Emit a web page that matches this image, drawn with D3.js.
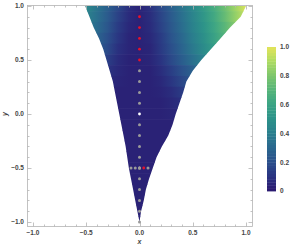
<!DOCTYPE html>
<html>
<head>
<meta charset="utf-8">
<script src="https://cdn.jsdelivr.net/npm/d3@7"></script>
<style>
  body { margin: 0; background: #fff; }
  text { font-family: "Liberation Sans", Arial, sans-serif; }
</style>
</head>
<body>
<div id="chart"></div>
<script>
// boundary of the shaded region, read per y level
const levels = [1.0, 0.9, 0.8, 0.7, 0.6, 0.5, 0.4, 0.3, 0.2, 0.1, 0.0,
                -0.1, -0.2, -0.3, -0.4, -0.5, -0.6, -0.7, -0.8, -0.9, -1.0];
const leftEdge = [-0.51, -0.47, -0.43, -0.38, -0.34, -0.31, -0.28, -0.25, -0.23, -0.21, -0.19,
                  -0.17, -0.15, -0.13, -0.115, -0.10, -0.08, -0.06, -0.04, -0.02, 0.0];
const rightEdge = [1.0, 0.95, 0.85, 0.76, 0.67, 0.58, 0.50, 0.44, 0.41, 0.375, 0.34,
                   0.31, 0.27, 0.21, 0.16, 0.125, 0.09, 0.06, 0.04, 0.015, 0.0];

// field value samples along x for each level
const sampleX = [-0.5, -0.4, -0.3, -0.2, -0.1, 0.0, 0.1, 0.2, 0.3, 0.4, 0.5, 0.6, 0.7, 0.8, 0.9, 1.0];
const field = [
  [0.45, 0.36, 0.27, 0.17, 0.08, 0.04, 0.09, 0.18, 0.27, 0.36, 0.45, 0.55, 0.65, 0.76, 0.87, 0.98],
  [0.42, 0.34, 0.25, 0.15, 0.07, 0.04, 0.08, 0.16, 0.25, 0.34, 0.43, 0.53, 0.63, 0.74, 0.85, 0.95],
  [0.40, 0.32, 0.23, 0.13, 0.06, 0.04, 0.07, 0.15, 0.24, 0.33, 0.42, 0.51, 0.61, 0.71, 0.82, 0.92],
  [0.37, 0.29, 0.20, 0.11, 0.05, 0.04, 0.06, 0.13, 0.22, 0.31, 0.40, 0.49, 0.59, 0.69, 0.79, 0.89],
  [0.33, 0.26, 0.18, 0.09, 0.05, 0.04, 0.05, 0.12, 0.20, 0.29, 0.38, 0.47, 0.56, 0.66, 0.76, 0.86],
  [0.28, 0.21, 0.14, 0.07, 0.04, 0.04, 0.05, 0.10, 0.18, 0.26, 0.34, 0.42, 0.50, 0.60, 0.70, 0.80],
  [0.22, 0.16, 0.10, 0.06, 0.04, 0.04, 0.04, 0.08, 0.14, 0.21, 0.28, 0.36, 0.45, 0.55, 0.65, 0.75],
  [0.15, 0.11, 0.07, 0.05, 0.04, 0.04, 0.04, 0.06, 0.11, 0.17, 0.24, 0.32, 0.40, 0.50, 0.60, 0.70],
  [0.10, 0.07, 0.05, 0.04, 0.04, 0.04, 0.04, 0.05, 0.08, 0.13, 0.19, 0.26, 0.34, 0.44, 0.54, 0.64],
  [0.06, 0.05, 0.04, 0.04, 0.04, 0.04, 0.04, 0.04, 0.06, 0.09, 0.14, 0.20, 0.28, 0.36, 0.46, 0.56],
  [0.04, 0.04, 0.04, 0.04, 0.04, 0.04, 0.04, 0.04, 0.05, 0.06, 0.09, 0.14, 0.20, 0.28, 0.36, 0.45],
  [0.04, 0.04, 0.04, 0.04, 0.04, 0.04, 0.04, 0.04, 0.04, 0.05, 0.07, 0.10, 0.15, 0.21, 0.28, 0.36],
  [0.04, 0.04, 0.04, 0.04, 0.04, 0.04, 0.04, 0.04, 0.04, 0.04, 0.05, 0.07, 0.10, 0.15, 0.21, 0.27],
  [0.04, 0.04, 0.04, 0.04, 0.04, 0.04, 0.04, 0.04, 0.04, 0.04, 0.04, 0.05, 0.07, 0.10, 0.14, 0.18],
  [0.04, 0.04, 0.04, 0.04, 0.04, 0.04, 0.04, 0.04, 0.04, 0.04, 0.04, 0.04, 0.05, 0.06, 0.08, 0.10],
  [0.04, 0.04, 0.04, 0.04, 0.04, 0.04, 0.04, 0.04, 0.04, 0.04, 0.04, 0.04, 0.04, 0.04, 0.05, 0.06],
  [0.04, 0.04, 0.04, 0.04, 0.04, 0.04, 0.04, 0.04, 0.04, 0.04, 0.04, 0.04, 0.04, 0.04, 0.04, 0.04],
  [0.04, 0.04, 0.04, 0.04, 0.04, 0.04, 0.04, 0.04, 0.04, 0.04, 0.04, 0.04, 0.04, 0.04, 0.04, 0.04],
  [0.04, 0.04, 0.04, 0.04, 0.04, 0.04, 0.04, 0.04, 0.04, 0.04, 0.04, 0.04, 0.04, 0.04, 0.04, 0.04],
  [0.04, 0.04, 0.04, 0.04, 0.04, 0.04, 0.04, 0.04, 0.04, 0.04, 0.04, 0.04, 0.04, 0.04, 0.04, 0.04],
  [0.04, 0.04, 0.04, 0.04, 0.04, 0.04, 0.04, 0.04, 0.04, 0.04, 0.04, 0.04, 0.04, 0.04, 0.04, 0.04]
];

// sample points
const grayX = [0, 0, 0, 0, 0, 0, 0, 0, 0, 0, 0, 0, 0, 0, 0, 0, -0.08, -0.04, 0.08];
const grayY = [0.4, 0.3, 0.2, 0.1, -0.1, -0.2, -0.3, -0.4, -0.5, -0.6, -0.7, -0.8, -0.9, -1.0, -0.5, -0.5, -0.5, -0.5, -0.5];
const redX = [0, 0, 0, 0, 0, 0.04];
const redY = [0.9, 0.8, 0.7, 0.6, 0.5, -0.5];
const whiteX = [0];
const whiteY = [0];

const majorTicks = [-1, -0.5, 0, 0.5, 1];
const tickLabels = ["\u22121.0", "\u22120.5", "0.0", "0.5", "1.0"];
const barTicks = [0, 0.2, 0.4, 0.6, 0.8, 1.0];
const barLabels = ["0", "0.2", "0.4", "0.6", "0.8", "1.0"];

const colorStops = ["#2a176f", "#2a3381", "#2b4f8b", "#2a668e", "#2a7e8d",
                    "#2c9189", "#3aa385", "#55b47a", "#7cc56d", "#addb63", "#e3e45a"];

const width = 294, height = 247;

const svg = d3.select("#chart").append("svg")
  .attr("width", width)
  .attr("height", height);

let x = d3.scaleLinear().domain([-1.056, 1.056]).range([27, 252]);
let y = d3.scaleLinear().domain([-1.037, 1.009]).range([226, 5]);
let color = d3.scaleLinear()
  .domain(d3.range(colorStops.length).map(i => i / (colorStops.length - 1)))
  .range(colorStops)
  .clamp(true);

let defs = svg.append("defs");

let region = levels.map((lv, i) => ({y: lv, l: leftEdge[i], r: rightEdge[i]}))
  .sort((a, b) => a.y - b.y);

let area = d3.area()
  .y(d => y(d.y))
  .x0(d => x(d.l))
  .x1(d => x(d.r));

defs.append("clipPath").attr("id", "clip-region")
  .append("path")
  .attr("d", area(region));

// one gradient per level
levels.forEach((lv, i) => {
  let g = defs.append("linearGradient")
    .attr("id", "row" + i)
    .attr("gradientUnits", "userSpaceOnUse")
    .attr("x1", x(sampleX[0])).attr("x2", x(sampleX[sampleX.length - 1]))
    .attr("y1", 0).attr("y2", 0);
  sampleX.forEach((sx, j) => {
    g.append("stop")
      .attr("offset", (sx - sampleX[0]) / (sampleX[sampleX.length - 1] - sampleX[0]))
      .attr("stop-color", color(field[i][j]));
  });
});

let fieldG = svg.append("g").attr("clip-path", "url(#clip-region)");

fieldG.selectAll("rect")
  .data(levels).enter()
  .append("rect")
  .attr("x", x(-0.6))
  .attr("width", x(1.05) - x(-0.6))
  .attr("y", d => y(d + 0.05) - 0.3)
  .attr("height", d => y(d - 0.05) - y(d + 0.05) + 0.6)
  .attr("fill", (d, i) => "url(#row" + i + ")");

// frame
let frame = svg.append("g").attr("class", "frame");
frame.append("rect")
  .attr("x", x.range()[0] + 0.5).attr("y", y.range()[1] + 0.5)
  .attr("width", x.range()[1] - x.range()[0])
  .attr("height", y.range()[0] - y.range()[1])
  .attr("fill", "none").attr("stroke", "#b4b4b4").attr("stroke-width", 0.8);

let minor = d3.range(-10, 11).map(d => d / 10);

function tickLen(v) { return majorTicks.some(m => Math.abs(m - v) < 1e-6) ? 4 : 2; }

let x0 = x.range()[0] + 0.5, x1 = x.range()[1] + 0.5;
let yTop = y.range()[1] + 0.5, yBot = y.range()[0] + 0.5;

minor.forEach(v => {
  let px = Math.round(x(v)) + 0.5, py = Math.round(y(v)) + 0.5, L = tickLen(v);
  frame.append("line").attr("x1", px).attr("x2", px).attr("y1", yBot).attr("y2", yBot - L);
  frame.append("line").attr("x1", px).attr("x2", px).attr("y1", yTop).attr("y2", yTop + L);
  frame.append("line").attr("y1", py).attr("y2", py).attr("x1", x0).attr("x2", x0 + L);
  frame.append("line").attr("y1", py).attr("y2", py).attr("x1", x1).attr("x2", x1 - L);
});
frame.selectAll("line").attr("stroke", "#b4b4b4").attr("stroke-width", 0.8);

// tick labels
svg.append("g").selectAll("text")
  .data(majorTicks).enter()
  .append("text")
  .attr("x", d => x(d))
  .attr("y", y.range()[0] + 9)
  .attr("text-anchor", "middle")
  .attr("font-size", 6.5).attr("font-weight", "bold").attr("fill", "#444")
  .text((d, i) => tickLabels[i]);

svg.append("g").selectAll("text")
  .data(majorTicks).enter()
  .append("text")
  .attr("x", x.range()[0] - 3)
  .attr("y", d => y(d) + 2.3)
  .attr("text-anchor", "end")
  .attr("font-size", 6.5).attr("font-weight", "bold").attr("fill", "#444")
  .text((d, i) => tickLabels[i]);

svg.append("text")
  .attr("x", x(0)).attr("y", 244)
  .attr("text-anchor", "middle")
  .attr("font-size", 7).attr("font-style", "italic").attr("font-weight", "bold").attr("fill", "#444")
  .text("x");

svg.append("text")
  .attr("transform", "translate(7," + y(0) + ") rotate(-90)")
  .attr("text-anchor", "middle")
  .attr("font-size", 7).attr("font-style", "italic").attr("font-weight", "bold").attr("fill", "#444")
  .text("y");

// points
function dots(xs, ys, fill, r) {
  svg.append("g").selectAll("circle")
    .data(xs.map((v, i) => [v, ys[i]])).enter()
    .append("circle")
    .attr("cx", d => x(d[0]))
    .attr("cy", d => y(d[1]))
    .attr("r", r)
    .attr("fill", fill);
}
dots(grayX, grayY, "#9a9a9a", 1.5);
dots(redX, redY, "#e8102a", 1.4);
dots(whiteX, whiteY, "#ffffff", 1.4);

// colour bar
let barScale = d3.scaleLinear().domain([0, 1]).range([191, 47]);
let bar = svg.append("g");
let strips = d3.range(0, 1, 0.02);
bar.selectAll("rect")
  .data(strips).enter()
  .append("rect")
  .attr("x", 267)
  .attr("width", 9)
  .attr("y", d => barScale(d + 0.02))
  .attr("height", d => barScale(d) - barScale(d + 0.02) + 0.4)
  .attr("fill", d => color(d + 0.01));

bar.selectAll("text")
  .data(barTicks).enter()
  .append("text")
  .attr("x", 280)
  .attr("y", d => barScale(d) + 2.3)
  .attr("font-size", 6.5).attr("font-weight", "bold").attr("fill", "#444")
  .text((d, i) => barLabels[i]);
</script>
</body>
</html>
